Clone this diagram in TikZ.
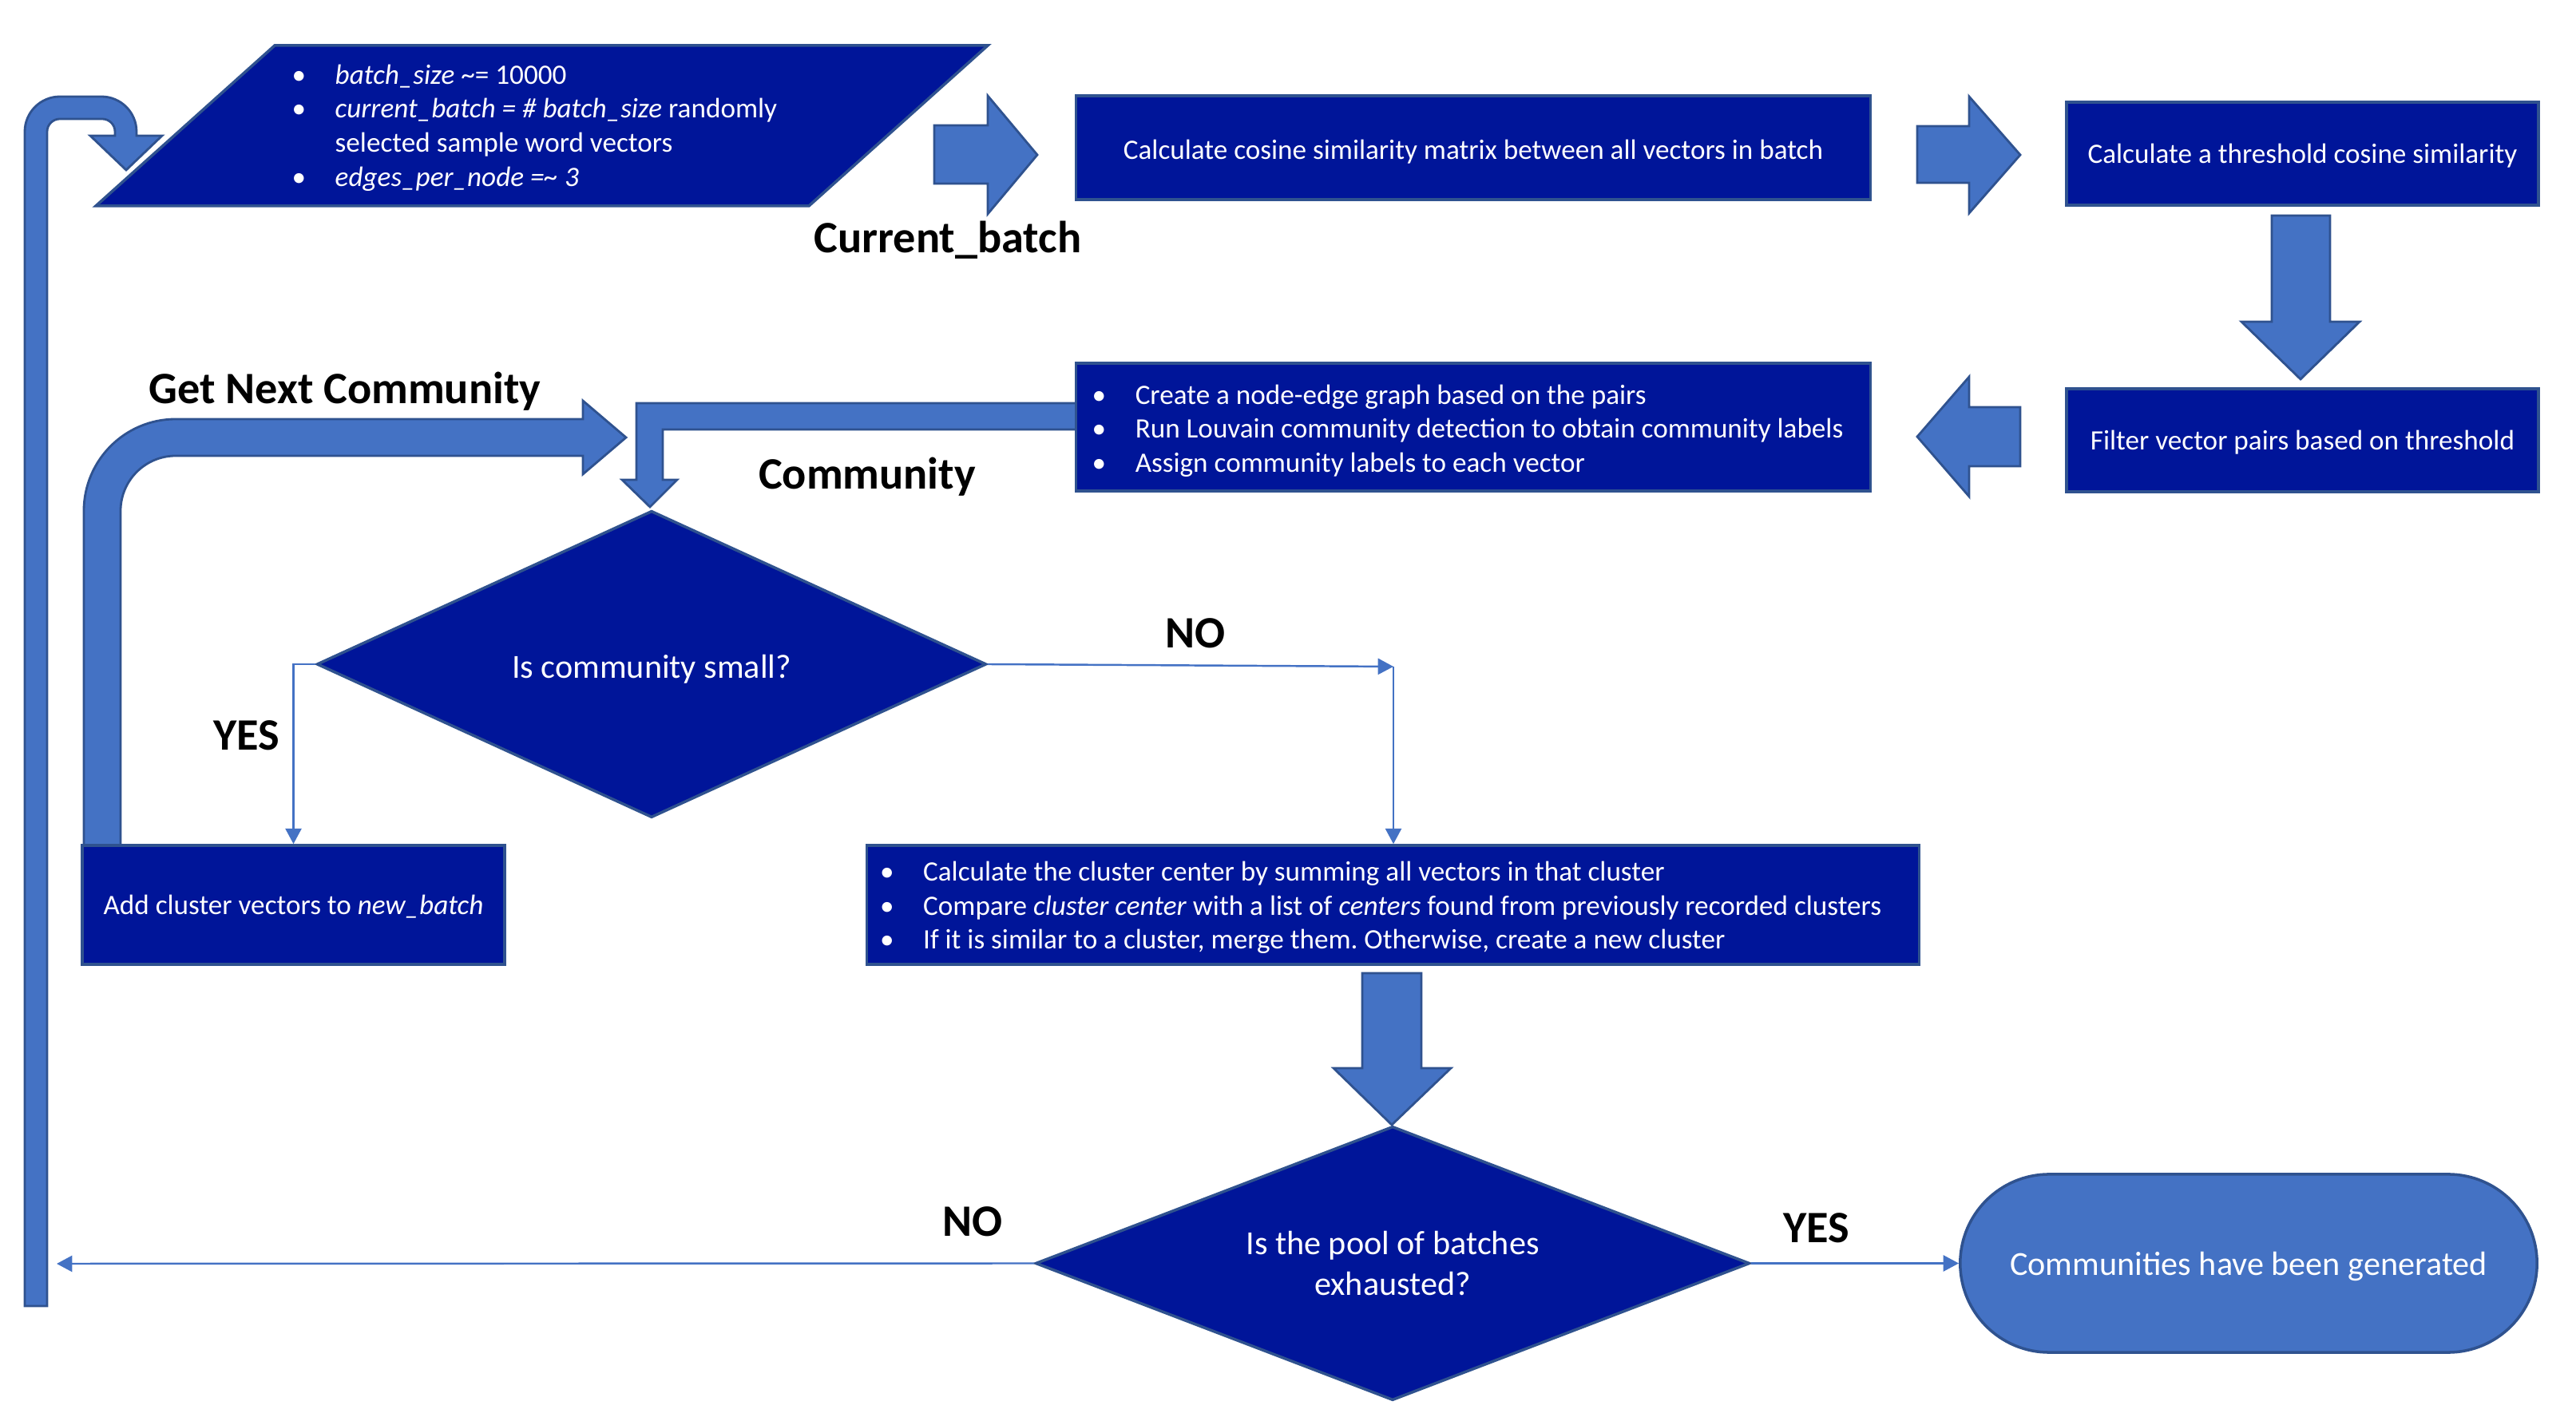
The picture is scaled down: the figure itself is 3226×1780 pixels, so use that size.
\documentclass[tikz,border=0pt]{standalone}
\usepackage{fontspec}
\setmainfont{Carlito}
\usetikzlibrary{shapes.geometric,shapes.misc,arrows.meta}
\definecolor{boxc}{HTML}{001599}
\definecolor{bordc}{HTML}{2F528F}
\definecolor{arrc}{HTML}{4472C4}
\newcommand\bitem{\makebox[0.47cm][l]{\hspace*{-0.07cm}\textbullet}}
\newcommand\bcont{\hspace*{0.47cm}}
\begin{document}
\frenchspacing
\begin{tikzpicture}[x=0.01cm,y=-0.01cm,
  box/.style={draw=bordc, fill=boxc, line width=1pt, text=white, inner sep=0pt, font=\fontsize{10}{12.1}\selectfont},
  one/.style={text height=8.6pt, text depth=2pt},
  txt/.style={text=white, inner sep=0pt, font=\fontsize{10}{12.1}\selectfont},
  shapebox/.style={draw=bordc, fill=boxc, line width=1pt},
  dia/.style={diamond, draw=bordc, fill=boxc, line width=1pt, text=white, inner sep=0pt, align=center, font=\fontsize{12}{14.6}\selectfont},
  term/.style={rounded rectangle, draw=bordc, fill=arrc, line width=1pt, text=white, inner sep=0pt, minimum width=7.22cm, minimum height=2.23cm, font=\fontsize{12}{14.6}\selectfont},
  barrow/.style={fill=arrc, draw=bordc, line width=0.8pt, line join=miter},
  thinarr/.style={draw=arrc, line width=0.7pt, -{Triangle[length=5.5pt,width=5.7pt]}},
  lbl/.style={font=\fontsize{16}{19}\selectfont\bfseries, text=black, anchor=base, inner sep=0pt}
]
\useasboundingbox (0,0) rectangle (3226,1780);

% input parallelogram
\filldraw[shapebox] (344,57) -- (1237,57) -- (1013,258) -- (120,258) -- cycle;
\node[txt, anchor=west, align=flush left] (input) at (372,160) {\bitem\textit{batch\_size} \textasciitilde= 10000\\ \bitem\textit{current\_batch = \# batch\_size} randomly\\ \bcont selected sample word vectors\\ \bitem\textit{edges\_per\_node =\textasciitilde{} 3}};

% loop-back block arrow (left)
\filldraw[barrow] (31,1636) -- (31,165) arc[start angle=180, end angle=270, radius=44] -- (127,121) arc[start angle=270, end angle=360, radius=44] -- (171,170) -- (203,170) -- (158,213) -- (113,170) -- (144,170) -- (144,165) arc[start angle=0, end angle=-90, radius=16] -- (75,149) arc[start angle=-90, end angle=-180, radius=16] -- (59,1636) -- cycle;

% block arrows top row
\filldraw[barrow] (1170,157) -- (1237,157) -- (1237,120) -- (1299,194) -- (1237,268) -- (1237,230) -- (1170,230) -- cycle;
\filldraw[barrow] (2401,158) -- (2466,158) -- (2466,121) -- (2530,194) -- (2466,267) -- (2466,229) -- (2401,229) -- cycle;
\filldraw[barrow] (2845,270) -- (2918,270) -- (2918,403) -- (2955,403) -- (2881,475) -- (2807,403) -- (2845,403) -- cycle;
\filldraw[barrow] (2530,510) -- (2466,510) -- (2466,472) -- (2401,547) -- (2466,622) -- (2466,584) -- (2530,584) -- cycle;

% community arrow
\filldraw[barrow] (1348,505) -- (797,505) -- (797,601) -- (779,601) -- (814,635) -- (848,601) -- (830,601) -- (830,538) -- (1348,538) -- cycle;

% get next community arrow
\filldraw[barrow] (105,1060) -- (105,640) arc[start angle=180, end angle=270, radius=115] -- (730,525) -- (730,502) -- (784,548) -- (730,594) -- (730,571) -- (220,571) arc[start angle=270, end angle=180, radius=69] -- (151,1060) -- cycle;

% merge -> pool arrow
\filldraw[barrow] (1706,1219) -- (1780,1219) -- (1780,1338) -- (1817,1338) -- (1743,1409) -- (1670,1338) -- (1706,1338) -- cycle;

% boxes
\node[box, text height=10.3pt, text depth=2pt, minimum width=9.94cm, minimum height=1.30cm] (cos) at (1845,185) {Calculate cosine similarity matrix between all vectors in batch};
\node[box, one, minimum width=5.91cm, minimum height=1.29cm] (thr) at (2883.5,192.5) {Calculate a threshold cosine similarity};
\node[box, one, minimum width=5.91cm, minimum height=1.29cm] (filt) at (2883.5,551.5) {Filter vector pairs based on threshold};
\node[box, minimum width=9.94cm, minimum height=1.60cm, text width=9.40cm, align=flush left] (graph) at (1845,535) {\rule{0pt}{9.6pt}\bitem Create a node-edge graph based on the pairs\\ \bitem Run Louvain community detection to obtain community labels\\ \bitem Assign community labels to each vector};
\node[box, one, minimum width=5.29cm, minimum height=1.49cm] (addb) at (367.5,1133.5) {Add cluster vectors to \textit{new\_batch}};
\node[box, minimum width=13.17cm, minimum height=1.49cm, text width=12.70cm, align=flush left] (merge) at (1744.5,1133.5) {\rule{0pt}{9.0pt}\bitem Calculate the cluster center by summing all vectors in that cluster\\ \bitem Compare \textit{cluster center} with a list of \textit{centers} found from previously recorded clusters\\ \bitem If it is similar to a cluster, merge them. Otherwise, create a new cluster};
\node[dia, shape aspect=2.2, minimum width=8.38cm, minimum height=3.84cm, text height=12pt, text depth=1.8pt] (small) at (816,832) {Is community small?};
\node[dia, shape aspect=2.4, minimum width=8.94cm, minimum height=3.43cm] (pool) at (1744,1582.5) {Is the pool of batches\\exhausted?};
\node[term, text height=10.6pt, text depth=1.8pt] (done) at (2816,1582.5) {Communities have been generated};

% thin connectors
\coordinate (noA) at (1745,835);
\coordinate (back) at (71,1583);
\draw[thinarr] (small.west) -| (addb.north);
\draw[thinarr] (small.east) -- (noA);
\draw[thinarr] (noA) -- (noA |- merge.north);
\draw[thinarr] (pool.west) -- (back);
\draw[thinarr] (pool.east) -- (done.west);

% labels
\node[lbl] (lcb) at (1187,317) {Current\_batch};
\node[lbl] (lgnc) at (432,506) {Get Next Community};
\node[lbl] (lcom) at (1086,613) {Community};
\node[lbl] (lno1) at (1497,812) {NO};
\node[lbl] (lyes1) at (309,940) {YES};
\node[lbl] (lno2) at (1218,1549) {NO};
\node[lbl] (lyes2) at (2275,1557) {YES};
\end{tikzpicture}
\end{document}
